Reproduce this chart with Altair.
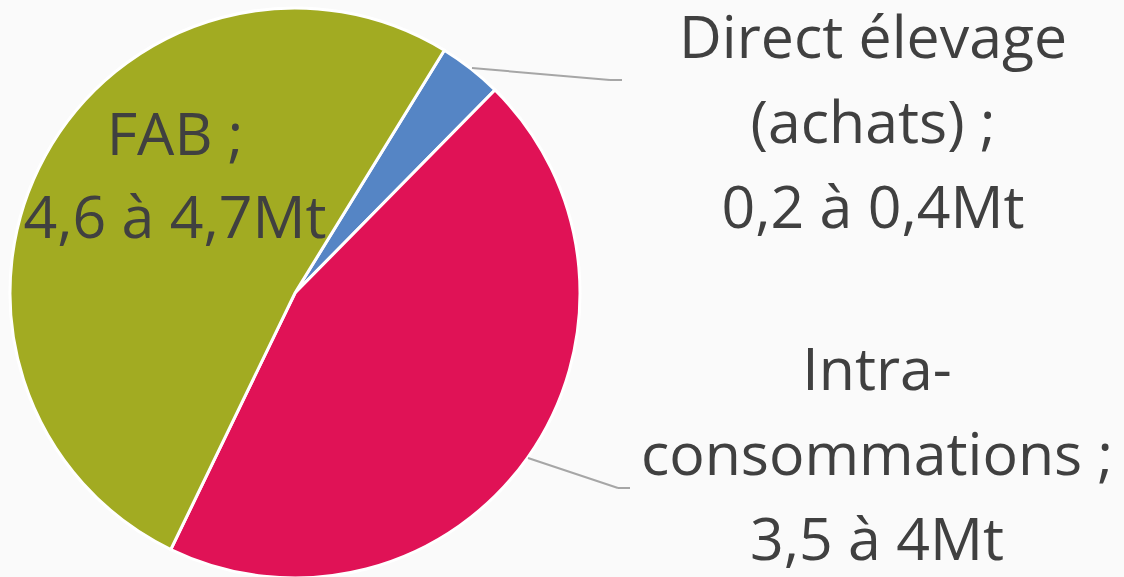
import math
import altair as alt
import pandas as pd

categories = ["Direct élevage (achats)", "Intra-consommations", "FAB"]
shares = [3.6, 44.8, 51.6]          # percent of pie
colors = ["#5585C5", "#E01256", "#A2AB22"]
order = [1, 2, 3]

label_lines = [
    ["Direct élevage", "(achats) ;", "0,2 à 0,4Mt"],
    ["Intra-", "consommations ;", "3,5 à 4Mt"],
    ["FAB ;", "4,6 à 4,7Mt"],
]

df = pd.DataFrame({"cat": categories, "share": shares, "ord": order})

start = math.radians(31.6)
W, H = 1124, 577
cx, cy, R = 295, 293, 285

pie = alt.Chart(df).mark_arc(radius=R, stroke="white", strokeWidth=3).encode(
    theta=alt.Theta("share:Q", stack=True,
                    scale=alt.Scale(range=[start, start + 2 * math.pi])),
    color=alt.Color("cat:N", scale=alt.Scale(domain=categories, range=colors), legend=None),
    order=alt.Order("ord:Q"),
    x=alt.value(cx), y=alt.value(cy),
)

font = "Open Sans"
txt_color = "#404040"
fs = 59

def label(lines, x, y, lh):
    return alt.Chart(pd.DataFrame({"t": ["\n".join(lines)]})).mark_text(
        font=font, fontSize=fs, color=txt_color, align="center", baseline="alphabetic",
        lineBreak="\n", lineHeight=lh,
    ).encode(text="t:N", x=alt.value(x), y=alt.value(y))

lab1 = label(label_lines[0], 873, 58, 85)
lab2 = label(label_lines[1], 877, 390, 85)
lab3 = label(label_lines[2], 175, 155, 83)

def seg(x1, y1, x2, y2):
    return alt.Chart(pd.DataFrame({"a": [0]})).mark_rule(color="#A6A6A6", strokeWidth=2).encode(
        x=alt.value(x1), y=alt.value(y1), x2=alt.value(x2), y2=alt.value(y2))

lines = seg(472, 68, 610, 80) + seg(610, 80, 622, 80) + seg(528, 458, 618, 488) + seg(618, 488, 630, 488)

chart = alt.layer(pie, lines, lab1, lab2, lab3).properties(
    width=W, height=H, background="#FAFAFA", padding=0,
    autosize=alt.AutoSizeParams(type="none"),
).configure_view(stroke=None)

chart.save("out.html", embed_options={"renderer": "svg", "actions": False})
